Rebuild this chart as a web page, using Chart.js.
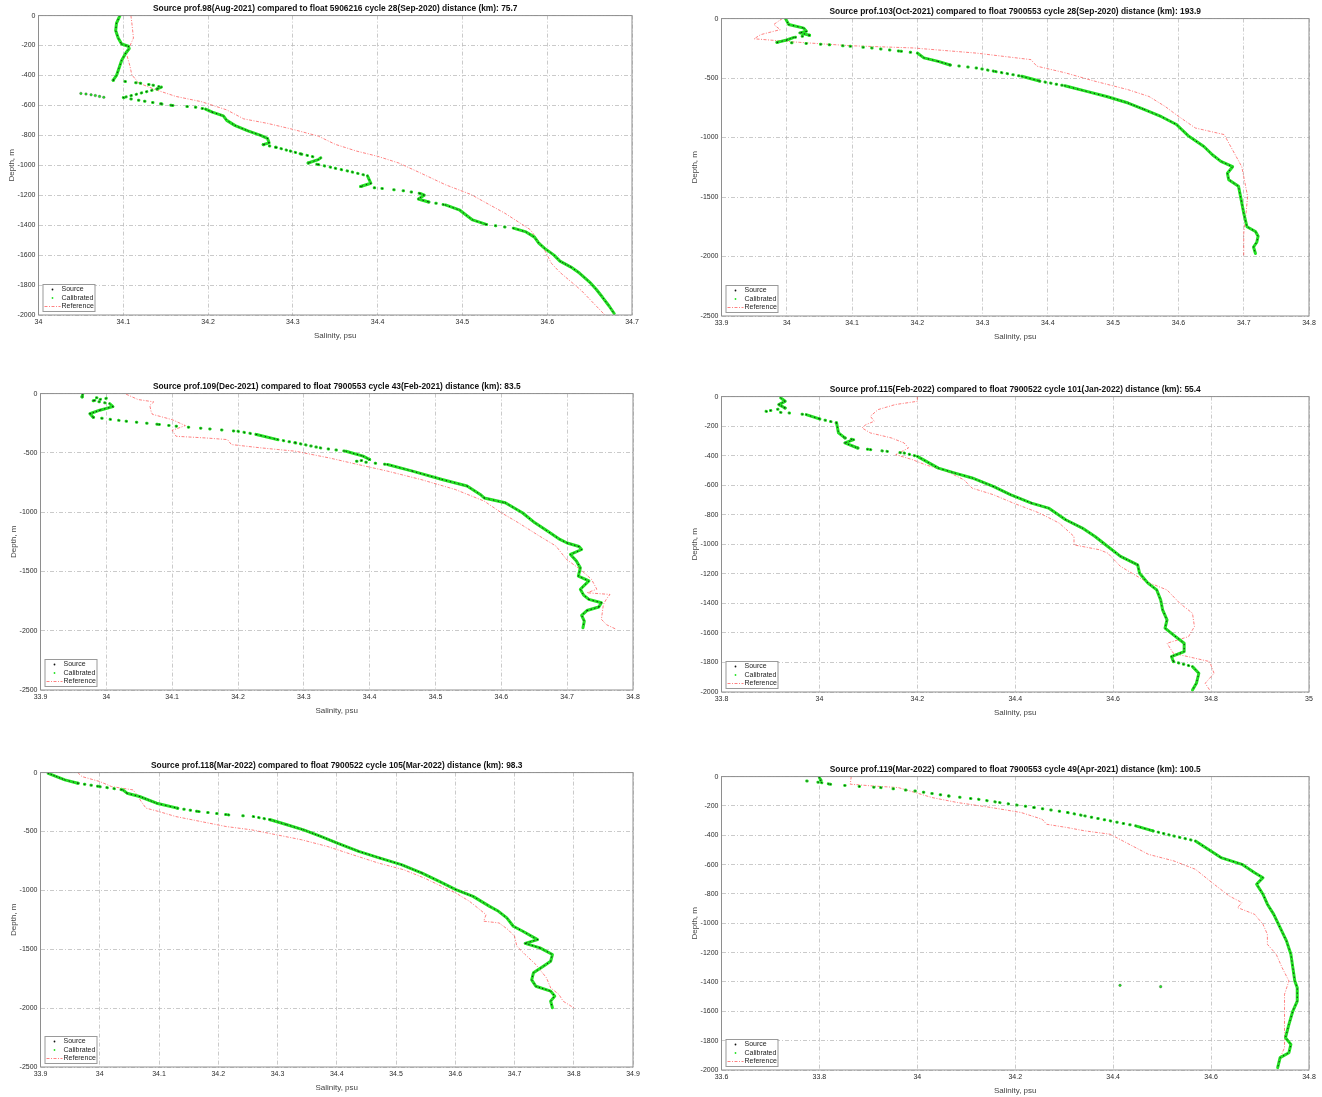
<!DOCTYPE html>
<html>
<head>
<meta charset="utf-8">
<title>Salinity profiles</title>
<script src="https://cdn.jsdelivr.net/npm/chart.js@4.4.1/dist/chart.umd.min.js"></script>
<style>
  html, body { margin: 0; padding: 0; background: #fff; }
  #page { position: relative; width: 1322px; height: 1097px; overflow: hidden; background: #fff; }
  .panel { position: absolute; }
</style>
</head>
<body>
<div id="page"></div>
<script>
// profile data: [salinity (psu), depth (m, negative down)]
const titles = [
  'Source prof.98(Aug-2021) compared to float 5906216 cycle 28(Sep-2020) distance (km): 75.7',
  'Source prof.103(Oct-2021) compared to float 7900553 cycle 28(Sep-2020) distance (km): 193.9',
  'Source prof.109(Dec-2021) compared to float 7900553 cycle 43(Feb-2021) distance (km): 83.5',
  'Source prof.115(Feb-2022) compared to float 7900522 cycle 101(Jan-2022) distance (km): 55.4',
  'Source prof.118(Mar-2022) compared to float 7900522 cycle 105(Mar-2022) distance (km): 98.3',
  'Source prof.119(Mar-2022) compared to float 7900553 cycle 49(Apr-2021) distance (km): 100.5'
];
const legendLabels = ['Source', 'Calibrated', 'Reference'];

const xt1 = [34, 34.1, 34.2, 34.3, 34.4, 34.5, 34.6, 34.7];
const xt2 = [33.9, 34, 34.1, 34.2, 34.3, 34.4, 34.5, 34.6, 34.7, 34.8];
const xt4 = [33.8, 34, 34.2, 34.4, 34.6, 34.8, 35];
const xt5 = [33.9, 34, 34.1, 34.2, 34.3, 34.4, 34.5, 34.6, 34.7, 34.8, 34.9];
const xt6 = [33.6, 33.8, 34, 34.2, 34.4, 34.6, 34.8];
const yt200 = [0, -200, -400, -600, -800, -1000, -1200, -1400, -1600, -1800, -2000];
const yt500 = [0, -500, -1000, -1500, -2000, -2500];

// source profiles (calibrated values coincide with source)
const src1 = [[34.096,0],[34.092,-50],[34.091,-100],[34.094,-150],[34.098,-190],[34.106,-205],[34.107,-220],[34.103,-250],[34.098,-300],[34.095,-350],[34.092,-400],[34.088,-432],[34.102,-440],[34.12,-452],[34.135,-465],[34.145,-478],[34.14,-490],[34.10,-548],[34.125,-572],[34.145,-590],[34.158,-600],[34.185,-612],[34.197,-625],[34.205,-645],[34.218,-670],[34.222,-700],[34.232,-735],[34.247,-770],[34.262,-800],[34.27,-820],[34.272,-850],[34.265,-862],[34.28,-880],[34.297,-905],[34.31,-925],[34.323,-942],[34.333,-950],[34.33,-962],[34.318,-985],[34.33,-995],[34.35,-1020],[34.37,-1045],[34.388,-1070],[34.39,-1095],[34.392,-1120],[34.38,-1142],[34.405,-1155],[34.43,-1170],[34.45,-1188],[34.455,-1200],[34.448,-1225],[34.46,-1245],[34.48,-1265],[34.497,-1300],[34.505,-1335],[34.512,-1365],[34.528,-1395],[34.56,-1420],[34.575,-1445],[34.585,-1480],[34.59,-1520],[34.597,-1555],[34.608,-1600],[34.615,-1640],[34.628,-1680],[34.638,-1720],[34.65,-1780],[34.658,-1830],[34.665,-1880],[34.673,-1940],[34.679,-1990]];
const stray1 = [[34.05,-520],[34.056,-524],[34.062,-529],[34.067,-534],[34.072,-540],[34.077,-546]];
const ref1 = [[34.109,0],[34.110,-45],[34.112,-150],[34.108,-200],[34.104,-260],[34.108,-340],[34.110,-395],[34.118,-450],[34.138,-495],[34.162,-540],[34.192,-575],[34.222,-630],[34.242,-690],[34.27,-720],[34.30,-760],[34.33,-805],[34.35,-860],[34.375,-905],[34.40,-940],[34.425,-985],[34.45,-1050],[34.48,-1130],[34.51,-1195],[34.55,-1320],[34.58,-1430],[34.595,-1545],[34.605,-1655],[34.615,-1715],[34.64,-1835],[34.668,-2000]];

const src2 = [[33.998,0],[34.003,-50],[34.026,-80],[34.03,-107],[34.02,-120],[34.035,-140],[34.01,-160],[34.0,-180],[33.985,-200],[34.02,-206],[34.065,-220],[34.097,-233],[34.13,-247],[34.175,-275],[34.2,-290],[34.21,-330],[34.232,-360],[34.25,-390],[34.29,-415],[34.32,-445],[34.36,-485],[34.387,-525],[34.426,-565],[34.458,-610],[34.49,-655],[34.523,-710],[34.548,-765],[34.574,-825],[34.597,-890],[34.616,-990],[34.639,-1075],[34.652,-1145],[34.665,-1200],[34.683,-1245],[34.675,-1300],[34.677,-1355],[34.692,-1410],[34.696,-1520],[34.70,-1635],[34.705,-1750],[34.718,-1790],[34.722,-1830],[34.72,-1880],[34.715,-1920],[34.718,-1975]];
const ref2 = [[33.993,0],[33.98,-50],[33.99,-93],[33.96,-135],[33.95,-170],[33.98,-183],[34.02,-200],[34.097,-228],[34.194,-247],[34.29,-290],[34.374,-345],[34.383,-400],[34.426,-455],[34.471,-525],[34.523,-598],[34.555,-655],[34.58,-740],[34.597,-810],[34.626,-920],[34.67,-975],[34.677,-1045],[34.697,-1245],[34.706,-1495],[34.703,-1665],[34.70,-1805],[34.70,-1990]];

const src3 = [[33.964,-8],[33.963,-28],[34.0,-40],[33.98,-60],[34.005,-85],[34.01,-110],[33.99,-140],[33.975,-170],[33.98,-200],[34.03,-233],[34.08,-260],[34.106,-275],[34.157,-298],[34.2,-318],[34.228,-345],[34.26,-388],[34.287,-415],[34.325,-458],[34.364,-486],[34.39,-528],[34.40,-556],[34.38,-570],[34.427,-598],[34.465,-654],[34.51,-725],[34.548,-780],[34.568,-851],[34.574,-880],[34.606,-921],[34.632,-1005],[34.651,-1090],[34.67,-1160],[34.689,-1230],[34.70,-1260],[34.718,-1290],[34.722,-1315],[34.705,-1357],[34.714,-1413],[34.72,-1470],[34.717,-1540],[34.733,-1580],[34.72,-1650],[34.725,-1700],[34.733,-1736],[34.752,-1764],[34.748,-1800],[34.73,-1830],[34.722,-1870],[34.726,-1920],[34.724,-1975]];
const ref3 = [[34.03,-5],[34.048,-50],[34.072,-70],[34.066,-100],[34.068,-150],[34.07,-175],[34.10,-220],[34.12,-270],[34.10,-310],[34.106,-360],[34.15,-374],[34.184,-388],[34.19,-430],[34.235,-458],[34.287,-486],[34.338,-542],[34.382,-598],[34.427,-654],[34.478,-725],[34.53,-809],[34.574,-907],[34.60,-1005],[34.626,-1090],[34.658,-1202],[34.683,-1286],[34.699,-1399],[34.72,-1483],[34.737,-1567],[34.745,-1650],[34.73,-1680],[34.765,-1694],[34.76,-1730],[34.755,-1778],[34.752,-1904],[34.76,-1950],[34.775,-1989]];

const src4 = [[33.921,-9],[33.93,-32],[33.917,-54],[33.93,-77],[33.891,-100],[33.938,-111],[33.973,-122],[34.0,-151],[34.035,-178],[34.039,-246],[34.052,-280],[34.07,-292],[34.052,-314],[34.078,-348],[34.104,-359],[34.138,-371],[34.173,-382],[34.2,-405],[34.243,-484],[34.277,-518],[34.312,-551],[34.355,-608],[34.39,-664],[34.433,-721],[34.468,-755],[34.503,-834],[34.537,-890],[34.563,-947],[34.589,-1015],[34.615,-1082],[34.65,-1139],[34.654,-1196],[34.671,-1263],[34.689,-1309],[34.697,-1376],[34.701,-1444],[34.71,-1512],[34.706,-1568],[34.723,-1613],[34.745,-1670],[34.745,-1726],[34.719,-1760],[34.723,-1794],[34.762,-1828],[34.775,-1873],[34.77,-1941],[34.762,-1986]];
const ref4 = [[34.2,0],[34.2,-32],[34.155,-54],[34.12,-88],[34.104,-133],[34.112,-167],[34.095,-190],[34.087,-212],[34.104,-246],[34.147,-280],[34.173,-314],[34.182,-348],[34.156,-393],[34.19,-427],[34.216,-461],[34.26,-506],[34.295,-563],[34.312,-620],[34.355,-664],[34.396,-721],[34.45,-789],[34.49,-857],[34.52,-947],[34.52,-1004],[34.572,-1037],[34.589,-1060],[34.615,-1150],[34.667,-1252],[34.71,-1309],[34.736,-1399],[34.762,-1467],[34.766,-1557],[34.754,-1625],[34.71,-1670],[34.723,-1738],[34.797,-1794],[34.806,-1873],[34.788,-1941],[34.797,-1986]];

const src5 = [[33.913,-6],[33.927,-34],[33.941,-62],[33.963,-90],[34.0,-119],[34.039,-147],[34.046,-175],[34.067,-203],[34.096,-260],[34.131,-302],[34.167,-331],[34.217,-359],[34.259,-373],[34.288,-401],[34.316,-443],[34.344,-486],[34.373,-542],[34.401,-599],[34.437,-669],[34.473,-726],[34.509,-782],[34.544,-853],[34.573,-924],[34.601,-994],[34.63,-1051],[34.658,-1136],[34.673,-1178],[34.687,-1234],[34.698,-1305],[34.714,-1347],[34.739,-1418],[34.718,-1450],[34.743,-1489],[34.764,-1545],[34.761,-1602],[34.75,-1640],[34.732,-1700],[34.729,-1760],[34.736,-1814],[34.761,-1856],[34.768,-1898],[34.761,-1941],[34.764,-1997]];
const ref5 = [[33.963,0],[33.97,-34],[34.0,-76],[34.02,-119],[34.056,-147],[34.063,-189],[34.07,-246],[34.078,-302],[34.1,-331],[34.128,-373],[34.17,-415],[34.213,-458],[34.256,-486],[34.298,-528],[34.341,-571],[34.384,-627],[34.427,-698],[34.47,-768],[34.513,-825],[34.548,-896],[34.577,-966],[34.601,-1023],[34.624,-1093],[34.652,-1206],[34.648,-1262],[34.674,-1277],[34.689,-1333],[34.70,-1390],[34.704,-1475],[34.718,-1545],[34.736,-1630],[34.754,-1743],[34.761,-1828],[34.775,-1884],[34.782,-1941],[34.80,-1997]];

const src6 = [[33.80,-7],[33.803,-25],[33.774,-30],[33.804,-41],[33.822,-52],[33.865,-64],[33.925,-75],[33.995,-98],[34.064,-132],[34.125,-155],[34.168,-177],[34.238,-211],[34.307,-245],[34.342,-268],[34.394,-302],[34.446,-336],[34.481,-370],[34.524,-405],[34.568,-439],[34.594,-495],[34.62,-552],[34.663,-598],[34.689,-655],[34.706,-689],[34.693,-734],[34.706,-802],[34.715,-870],[34.728,-939],[34.741,-1030],[34.754,-1120],[34.763,-1211],[34.767,-1302],[34.771,-1393],[34.776,-1439],[34.776,-1530],[34.767,-1598],[34.759,-1689],[34.752,-1780],[34.763,-1825],[34.759,-1882],[34.741,-1916],[34.736,-1984]];
const stray6 = [[34.414,-1423],[34.497,-1432]];
const ref6 = [[33.865,0],[33.863,-52],[33.909,-64],[33.961,-75],[33.996,-109],[34.03,-143],[34.082,-177],[34.151,-211],[34.212,-245],[34.255,-291],[34.264,-325],[34.307,-348],[34.342,-370],[34.394,-393],[34.42,-439],[34.472,-530],[34.524,-575],[34.568,-632],[34.602,-723],[34.637,-814],[34.663,-859],[34.654,-893],[34.689,-939],[34.706,-1007],[34.715,-1075],[34.715,-1143],[34.733,-1211],[34.745,-1302],[34.759,-1393],[34.75,-1484],[34.75,-1575],[34.75,-1666],[34.75,-1757],[34.75,-1848],[34.741,-1916],[34.736,-1984]];

// axes boxes on the page: left, top, right, bottom
const panels = [
  { title: titles[0], src: src1, ref: ref1, stray: stray1, x: [34, 34.7], y: [-2000, 0], xt: xt1, yt: yt200, box: [39, 16, 632, 315] },
  { title: titles[1], src: src2, ref: ref2, x: [33.9, 34.8], y: [-2500, 0], xt: xt2, yt: yt500, box: [722, 19, 1309, 316] },
  { title: titles[2], src: src3, ref: ref3, x: [33.9, 34.8], y: [-2500, 0], xt: xt2, yt: yt500, box: [41, 394, 633, 690] },
  { title: titles[3], src: src4, ref: ref4, x: [33.8, 35], y: [-2000, 0], xt: xt4, yt: yt200, box: [722, 397, 1309, 692] },
  { title: titles[4], src: src5, ref: ref5, x: [33.9, 34.9], y: [-2500, 0], xt: xt5, yt: yt500, box: [41, 773, 633, 1067] },
  { title: titles[5], src: src6, ref: ref6, stray: stray6, x: [33.6, 34.8], y: [-2000, 0], xt: xt6, yt: yt200, box: [722, 777, 1309, 1070] }
];

Chart.defaults.font.family = '"Liberation Sans", Arial, Helvetica, sans-serif';
Chart.defaults.font.size = 7;
Chart.defaults.color = '#333';

const GREEN = '#22e222';
const RED = 'rgba(255,80,80,0.8)';
const SAMPLE_DZ = 8; // metres between profile samples, used for dot spacing

const toXY = arr => arr.map(p => ({ x: p[0], y: p[1] }));

// where the profile runs nearly flat the samples spread out into separate dots
function sparse(width, base) {
  return c => {
    const dx = Math.abs(c.p1.x - c.p0.x), dy = Math.abs(c.p1.y - c.p0.y);
    const ys = c.chart.scales.y;
    const step = Math.abs(ys.getPixelForValue(0) - ys.getPixelForValue(-SAMPLE_DZ));
    const spacing = dy > 0 ? step * Math.hypot(dx, dy) / dy : 14;
    return spacing > width + 1.5 ? [0.5, Math.min(spacing, 14)] : base;
  };
}

const framePlugin = {
  id: 'frame',
  afterDraw(chart) {
    const { ctx, chartArea: a } = chart;
    ctx.save();
    ctx.strokeStyle = '#8e8e8e';
    ctx.lineWidth = 1;
    ctx.setLineDash([]);
    ctx.strokeRect(a.left, a.top, a.right - a.left, a.bottom - a.top);

    // legend box, lower left corner
    const x = a.left + 4, y = a.bottom - 31, w = 52, h = 27;
    ctx.fillStyle = '#fff';
    ctx.fillRect(x, y, w, h);
    ctx.strokeStyle = '#9a9a9a';
    ctx.strokeRect(x + 0.5, y + 0.5, w, h);
    ctx.font = '7px "Liberation Sans", Arial, sans-serif';
    ctx.textBaseline = 'middle';
    legendLabels.forEach((t, i) => {
      const ly = y + 5.5 + i * 8.5;
      if (i === 2) {
        ctx.strokeStyle = RED;
        ctx.lineWidth = 0.9;
        ctx.setLineDash([3, 1.5, 1, 1.5]);
        ctx.beginPath();
        ctx.moveTo(x + 2, ly);
        ctx.lineTo(x + 18, ly);
        ctx.stroke();
        ctx.setLineDash([]);
      } else {
        ctx.fillStyle = i === 0 ? '#111' : GREEN;
        ctx.beginPath();
        ctx.arc(x + 10, ly, 0.9, 0, Math.PI * 2);
        ctx.fill();
      }
      ctx.fillStyle = '#222';
      ctx.fillText(t, x + 19, ly);
    });
    ctx.restore();
  }
};

function axis(range, ticks, label, pad, titlePad) {
  return {
    type: 'linear',
    min: range[0],
    max: range[1],
    afterBuildTicks: s => { s.ticks = ticks.map(v => ({ value: v })); },
    ticks: { autoSkip: false, maxRotation: 0, padding: pad, color: '#2b2b2b', font: { size: 7 }, callback: v => String(v) },
    grid: { color: '#bcbcbc', lineWidth: 0.8, drawTicks: false },
    border: { display: false, dash: [4, 2, 1, 2] },
    title: { display: true, text: label, color: '#444', font: { size: 8 }, padding: titlePad }
  };
}

const page = document.getElementById('page');

panels.forEach(p => {
  const wrap = document.createElement('div');
  wrap.className = 'panel';
  const canvas = document.createElement('canvas');
  canvas.width = 700;
  canvas.height = 370;
  wrap.appendChild(canvas);
  page.appendChild(wrap);

  const datasets = [
    {
      label: 'Source', data: toXY(p.src), showLine: true, pointRadius: 0,
      borderColor: '#1a1a1a', borderWidth: 1.0, borderDash: [0.5, 3.6], borderCapStyle: 'round',
      segment: { borderDash: sparse(1.0, [0.5, 3.6]) }
    },
    {
      label: 'Calibrated', data: toXY(p.src), showLine: true, pointRadius: 0,
      borderColor: GREEN, borderWidth: 3, borderCapStyle: 'round', borderJoinStyle: 'round',
      segment: { borderDash: sparse(3) }
    },
    {
      label: 'Reference', data: toXY(p.ref), showLine: true, pointRadius: 0,
      borderColor: RED, borderWidth: 0.9, borderDash: [3, 1.5, 1, 1.5]
    }
  ];
  if (p.stray) {
    datasets.push({
      label: 'Calibrated', data: toXY(p.stray), pointRadius: 1.3,
      pointBackgroundColor: GREEN, pointBorderColor: '#333', pointBorderWidth: 0.3
    });
  }

  const chart = new Chart(canvas, {
    type: 'scatter',
    data: { datasets },
    options: {
      responsive: false,
      maintainAspectRatio: false,
      animation: false,
      events: [],
      layout: { padding: { top: 1, right: 10, bottom: 1, left: 1 } },
      plugins: {
        legend: { display: false },
        tooltip: { enabled: false },
        title: {
          display: true, text: p.title, fullSize: false, color: '#111',
          font: { size: 8.4, weight: 'bold' }, padding: { top: 0, bottom: 1.5 }
        }
      },
      scales: {
        x: axis(p.x, p.xt, 'Salinity, psu', 3, { top: 2, bottom: 2 }),
        y: axis(p.y, p.yt, 'Depth, m', 3, { top: 0, bottom: -2 })
      }
    },
    plugins: [framePlugin]
  });

  // size the canvas so the plot area lands on its box
  const [bx, by, br, bb] = p.box;
  let a = chart.chartArea;
  const w = Math.round(chart.width + (br - bx) - (a.right - a.left));
  const h = Math.round(chart.height + (bb - by) - (a.bottom - a.top));
  chart.resize(w, h);
  a = chart.chartArea;
  wrap.style.left = Math.round(bx - a.left) + 'px';
  wrap.style.top = Math.round(by - a.top) + 'px';
});
</script>
</body>
</html>
